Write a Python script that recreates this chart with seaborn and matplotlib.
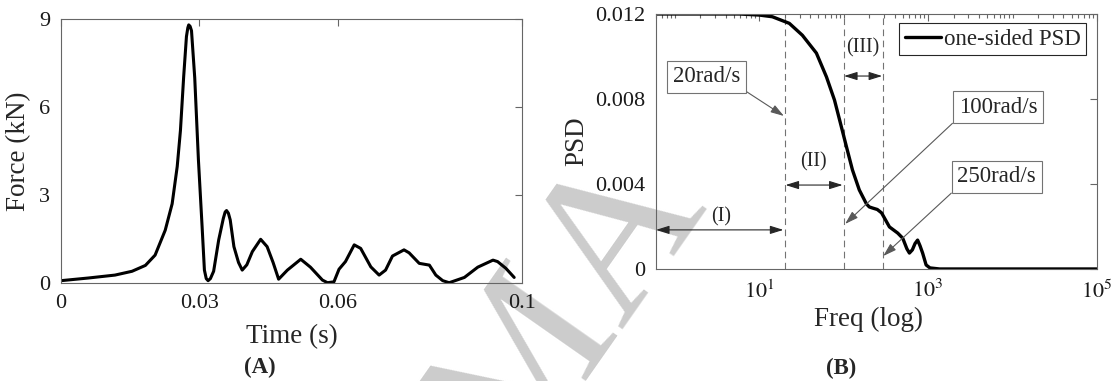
import numpy as np
import pandas as pd
import matplotlib
matplotlib.use('Agg')
import matplotlib.pyplot as plt
import seaborn as sns
from matplotlib.ticker import FixedLocator, LogLocator, NullFormatter

# impact force history, panel (A)
time_s = [0.0000, 0.0059, 0.0117, 0.0154, 0.0183, 0.0204, 0.0226, 0.0241, 0.0252, 0.0259,
          0.0266, 0.0272, 0.0275, 0.0277, 0.0280, 0.0283, 0.0290, 0.0298, 0.0306, 0.0311,
          0.0315, 0.0319, 0.0324, 0.0331, 0.0342, 0.0352, 0.0356, 0.0359, 0.0363, 0.0367,
          0.0375, 0.0385, 0.0393, 0.0403, 0.0415, 0.0433, 0.0447, 0.0460, 0.0472, 0.0491,
          0.0520, 0.0541, 0.0567, 0.0578, 0.0592, 0.0603, 0.0617, 0.0636, 0.0650, 0.0672,
          0.0690, 0.0704, 0.0719, 0.0744, 0.0755, 0.0777, 0.0799, 0.0813, 0.0828, 0.0842,
          0.0875, 0.0904, 0.0937, 0.0947, 0.0965, 0.0983]
force_kN = [0.08, 0.17, 0.27, 0.40, 0.60, 0.95, 1.80, 2.70, 3.97, 5.20,
            7.03, 8.40, 8.70, 8.80, 8.75, 8.60, 7.00, 4.20, 1.92, 0.44,
            0.15, 0.08, 0.15, 0.40, 1.47, 2.20, 2.42, 2.47, 2.38, 2.15,
            1.24, 0.70, 0.44, 0.62, 1.07, 1.49, 1.24, 0.70, 0.13, 0.44,
            0.81, 0.54, 0.10, 0.01, 0.04, 0.47, 0.73, 1.30, 1.18, 0.55,
            0.27, 0.44, 0.92, 1.13, 1.03, 0.67, 0.61, 0.27, 0.08, 0.01,
            0.19, 0.54, 0.78, 0.73, 0.50, 0.19]

# one-sided PSD, panel (B)
freq = [0.6, 2.0, 5.8, 10, 14.3, 22.7, 32.4, 47.5, 62.5, 77.8, 94, 108, 127, 153, 186,
        201, 219, 250, 281, 348, 436, 500, 560, 600, 650, 700, 750, 800, 860, 946,
        1050, 1370, 3000, 1e4, 1e5]
psd = [0.0120, 0.0120, 0.0120, 0.01195, 0.01187, 0.01156, 0.0110, 0.01016, 0.00904, 0.00795,
       0.00668, 0.00574, 0.00466, 0.00372, 0.00306, 0.00292, 0.00287, 0.0028, 0.00264, 0.00198,
       0.00169, 0.00145, 0.00095, 0.00075, 0.0009, 0.0012, 0.00136, 0.0011, 0.00075, 0.00019,
       0.00005, 0.0, 0.0, 0.0, 0.0]

# frequency bands
band_edges = [20, 100, 290]
edge_labels = ['20rad/s', '100rad/s', '250rad/s']
band_names = ['(I)', '(II)', '(III)']

force_df = pd.DataFrame({'t': time_s, 'F': force_kN})
psd_df = pd.DataFrame({'f': freq, 'psd': psd})

sns.set_theme(style='white')
plt.rcParams['font.family'] = ['Liberation Serif', 'DejaVu Serif']
plt.rcParams['mathtext.fontset'] = 'stix'

fig = plt.figure(figsize=(11.14, 3.81), dpi=100)
ax1 = fig.add_axes([0.0548, 0.2572, 0.4138, 0.6929])
ax2 = fig.add_axes([0.5889, 0.294, 0.3959, 0.6693])

spine_col = '0.4'
for ax in (ax1, ax2):
    ax.set_facecolor('none')
    for s in ax.spines.values():
        s.set_color(spine_col)
        s.set_linewidth(0.8)
    ax.tick_params(which='both', direction='in', top=True, right=True, color=spine_col,
                   width=0.8, labelsize=16, labelcolor='k')
    ax.tick_params(which='major', length=5)
    ax.tick_params(which='minor', length=3)

# (A) force
sns.lineplot(data=force_df, x='t', y='F', ax=ax1, color='black', lw=2.2, sort=False)
ax1.set_xlim(0, 0.1)
ax1.set_ylim(0, 9)
ax1.set_xticks([0, 0.03, 0.06, 0.1])
ax1.set_xticklabels(['0', '0.03', '0.06', '0.1'])
ax1.set_yticks([0, 3, 6, 9])
ax1.tick_params(axis='x', pad=8)
ax1.tick_params(axis='y', pad=8)
ax1.set_xlabel('Time (s)', fontsize=19.5)
ax1.set_ylabel('Force (kN)', fontsize=19.5)
ax1.xaxis.set_label_coords(0.501, -0.155)
ax1.yaxis.set_label_coords(-0.064, 0.5)

# (B) PSD
sns.lineplot(data=psd_df, x='f', y='psd', ax=ax2, color='black', lw=2.4,
             label='one-sided PSD')
ax2.set_xscale('log')
ax2.set_xlim(0.6, 1e5)
ax2.set_ylim(0, 0.012)
ax2.xaxis.set_major_locator(FixedLocator([10, 1e3, 1e5]))
ax2.xaxis.set_minor_locator(LogLocator(base=10, subs=np.arange(1, 10), numticks=20))
ax2.xaxis.set_minor_formatter(NullFormatter())
ax2.set_xticklabels(['$10^{1}$', '$10^{3}$', '$10^{5}$'])
ax2.set_yticks([0, 0.004, 0.008, 0.012])
ax2.set_yticklabels(['0', '0.004', '0.008', '0.012'])
ax2.tick_params(axis='x', pad=8)
ax2.tick_params(axis='y', pad=8)
ax2.set_xlabel('Freq (log)', fontsize=19.5)
ax2.set_ylabel('PSD', fontsize=19.5)
ax2.xaxis.set_label_coords(0.481, -0.15)
ax2.yaxis.set_label_coords(-0.152, 0.5)

for e in band_edges:
    ax2.axvline(e, color='0.45', lw=0.8, ls=(0, (6, 4)), zorder=1)

arrow_dbl = dict(arrowstyle='<|-|>,head_length=0.8,head_width=0.25', color='0.15',
                 lw=0.8, shrinkA=0, shrinkB=0, mutation_scale=10)
ax2.annotate('', xy=(19.3, 0.00184), xytext=(0.6, 0.00184), arrowprops=arrow_dbl)
ax2.annotate('', xy=(97, 0.00395), xytext=(20.5, 0.00395), arrowprops=arrow_dbl)
ax2.annotate('', xy=(285, 0.00908), xytext=(101, 0.00908), arrowprops=arrow_dbl)
ax2.text(3.5, 0.00245, band_names[0], ha='center', va='center', fontsize=14.5)
ax2.text(44, 0.00504, band_names[1], ha='center', va='center', fontsize=14.5)
ax2.text(168, 0.0104, band_names[2], ha='center', va='center', fontsize=14.5)

box = dict(boxstyle='square,pad=0.25', fc='white', ec='0.45', lw=0.8)
callouts = [((2.36, 0.00904), (19.6, 0.0072), (1, 0)),
            ((6700, 0.00762), (104, 0.00212), (0, 0)),
            ((6500, 0.00433), (294, 0.00061), (0, 0))]
for lab, (txy, tip, rp) in zip(edge_labels, callouts):
    ax2.annotate(lab, xy=tip, xytext=txy, ha='center', va='center', fontsize=16.5,
                 bbox=box,
                 arrowprops=dict(arrowstyle='-|>,head_length=0.8,head_width=0.25',
                                 color='0.35', lw=0.8, relpos=rp, shrinkA=0, shrinkB=0,
                                 mutation_scale=10))

leg = ax2.legend(loc='upper right', bbox_to_anchor=(0.975, 0.965), borderaxespad=0,
                 fancybox=False, framealpha=1, edgecolor='0.15', fontsize=16.5,
                 handlelength=1.6, handletextpad=0.1, borderpad=0.25)
leg.get_frame().set_linewidth(0.8)

fig.text(260 / 1114, 1 - 367 / 381, '(A)', ha='center', va='center', fontsize=16.5,
         fontweight='bold')
fig.text(841 / 1114, 1 - 368 / 381, '(B)', ha='center', va='center', fontsize=16.5,
         fontweight='bold')

# visible part of the manuscript watermark
fig.text(0.46, -0.25, 'MA', rotation=55, rotation_mode='anchor', ha='left',
         va='baseline', fontsize=150, color='#cccccc', zorder=-1)

fig.savefig('out.png', dpi=100)
